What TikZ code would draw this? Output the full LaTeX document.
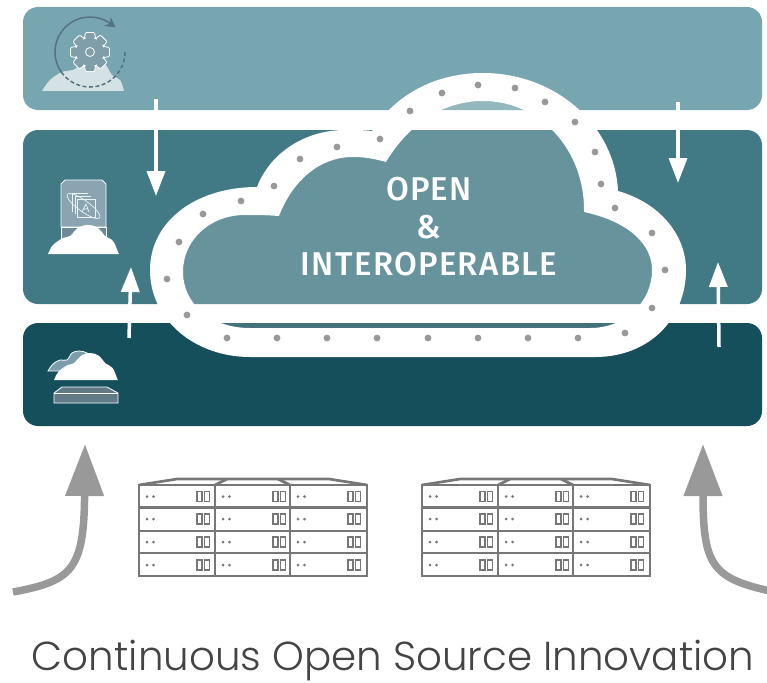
\documentclass[tikz,border=0pt]{standalone}
\usepackage{fontspec}
\usepackage{xcolor}
\usetikzlibrary{arrows.meta}
\newfontfamily\titlefont{Poppins Light}
\newfontfamily\cloudfont[LetterSpace=4]{Fira Sans Medium}

\definecolor{topteal}{HTML}{78A6B0}
\definecolor{midteal}{HTML}{417985}
\definecolor{lowteal}{HTML}{164F5C}
\definecolor{dotgray}{HTML}{999999}
\definecolor{rackgray}{HTML}{777777}
\definecolor{titlegray}{HTML}{444444}
\definecolor{gearfill}{HTML}{7F9EAA}
\definecolor{gearcloud}{HTML}{D5E2E5}
\definecolor{geararrow}{HTML}{557380}
\definecolor{boxupper}{HTML}{8AA5B1}
\definecolor{boxlower}{HTML}{6F8A97}
\definecolor{trayfill}{HTML}{617A85}
\definecolor{backcloud}{HTML}{7C9EAA}

\tikzset{
    band/.style={rounded corners=15pt,inner sep=0pt,minimum width=739pt},
    flowarrow/.style={-{Triangle[length=25pt,width=18pt]},white,line width=3.5pt},
    feedarrow/.style={-{Triangle[length=52pt,width=37pt]},dotgray,line width=7.5pt},
    rackline/.style={rackgray,line width=2.7pt},
    iconline/.style={white,line width=0.8pt},
    cloudtext/.style={white,font=\cloudfont\fontsize{33}{40}\selectfont},
    gearcurve/.style={geararrow,line width=1.5pt}
}

% cloud used by the icons, base left corner at the origin
\newcommand{\iconcloud}{plot[smooth,tension=.7] coordinates {(0,0) (1,-2) (5,-9) (15,-16) (22,-18) (30,-26) (40,-29) (50,-26) (57,-18) (65,-13) (70,-2) (71,0)} -- cycle}
% large cloud, edges of the ring
\newcommand{\cloudouter}{(257,187) .. controls (195,187) and (150,222) .. (150,270)
    .. controls (150,320) and (195,357) .. (250,357) -- (595,357)
    .. controls (650,357) and (686,318) .. (686,270) .. controls (686,235) and (660,203) .. (618,191)
    .. controls (615,125) and (555,73) .. (483,73) .. controls (435,73) and (395,95) .. (372,131)
    .. controls (365,130) and (355,130) .. (345,130) .. controls (305,130) and (270,153) .. (257,187) -- cycle}
\newcommand{\cloudinner}{(279,216) .. controls (265,215) and (255,215) .. (245,215)
    .. controls (210,215) and (183,240) .. (183,272) .. controls (183,303) and (210,328) .. (250,328) -- (590,328)
    .. controls (625,328) and (652,302) .. (652,270) .. controls (652,245) and (630,222) .. (584,212)
    .. controls (585,150) and (540,101) .. (483,101) .. controls (445,101) and (410,122) .. (386,162)
    .. controls (375,159) and (365,157) .. (353,157) .. controls (320,157) and (293,180) .. (279,216) -- cycle}

\begin{document}
\begin{tikzpicture}[x=1pt,y=-1pt]
    \useasboundingbox (0,0) rectangle (767,682);

    % Layers
    \node[band,fill=topteal,minimum height=103pt] (toplayer) at (392.5,58.5) {};
    \node[band,fill=midteal,minimum height=174pt] (midlayer) at (392.5,217) {};
    \node[band,fill=lowteal,minimum height=103pt] (lowlayer) at (392.5,374.5) {};

    % Flow arrows
    \coordinate (downlefta) at (156,99);
    \coordinate (downleftb) at (156,196);
    \coordinate (downrighta) at (678,102);
    \coordinate (downrightb) at (678,183);
    \coordinate (uplefta) at (129,338);
    \coordinate (upleftb) at (131,267);
    \coordinate (uprighta) at (719,347);
    \coordinate (uprightb) at (718,262);
    \draw[flowarrow] (downlefta) -- (downleftb);
    \draw[flowarrow] (downrighta) -- (downrightb);
    \draw[flowarrow] (uplefta) -- (upleftb);
    \draw[flowarrow] (uprighta) -- (uprightb);

    % Cloud ring and its see-through middle
    \fill[white,even odd rule] \cloudouter \cloudinner;
    \fill[white,opacity=.2] \cloudinner;
    \foreach \dotx/\doty in {410/111,380/139,337/147,300/159,274/186,241/201,203/214,179/242,167/279,187/315,
        227/338,277/338,327/338,377/338,428/338,478/338,528/338,578/338,625/333,652/308,665/270,652/233,615/208,
        601/184,595/152,575/122,545/102,515/88,478/85,442/93}
        \fill[dotgray] (\dotx,\doty) circle (3.4);

    \node[cloudtext] (opentext) at (429,189) {OPEN};
    \node[cloudtext] (andtext) at (429,227) {\&};
    \node[cloudtext] (interoptext) at (429,264) {INTEROPERABLE};

    % Gear icon
    \fill[gearcloud] plot[smooth,tension=.6] coordinates {(42,91) (50,80) (62,72) (73,70) (83,65) (103,63) (112,75) (120,80) (124,91)} -- cycle;
    \begin{scope}[shift={(90,52)}]
        \draw[iconline,fill=gearfill,rounded corners=1pt]
            (-23:14.5) \foreach \gearang in {0,45,...,315} {
                -- ({\gearang-23}:14.5) -- ({\gearang-13}:20) -- ({\gearang+13}:20) -- ({\gearang+23}:14.5)} -- cycle;
        \draw[iconline] (0,0) circle (4.5);
        \draw[gearcurve] (140:35) arc[start angle=140,end angle=308,radius=35];
        \draw[gearcurve,-{Stealth[length=10pt,width=11pt]}] (308:35) -- (316:35.5);
        \draw[gearcurve,dash pattern=on 4pt off 2.5pt] (0:35) arc[start angle=0,end angle=140,radius=35];
    \end{scope}

    % Platform icon
    \draw[iconline,fill=boxupper] (61,227) -- (61,184) -- (65,180) -- (102,180) -- (106,184) -- (106,227) -- cycle;
    \draw[iconline,fill=boxlower] (61,227) rectangle (106,245);
    \draw[white!85!topteal,line width=.6pt] (72,212) -- (72,193) -- (88,193);
    \draw[white!85!topteal,line width=.6pt] (75,214) -- (75,196) -- (91,196);
    \draw[white!85!topteal,line width=.7pt] (77,199) rectangle (95,217);
    \draw[white!85!topteal,line width=.7pt,rotate around={-36:(83.5,206)}] (83.5,206) ellipse (20 and 5.5);
    \draw[white!85!topteal,line width=.7pt] (82,212) -- (86,204) -- (89,212) (83.5,209) -- (88,209);
    \begin{scope}[shift={(48,254)}]
        \fill[white] \iconcloud;
    \end{scope}

    % Hardware icon
    \draw[iconline,fill=backcloud] plot[smooth,tension=.6] coordinates {(48,371) (53,364) (60,360) (67,360) (72,353) (79,351) (87,353) (95,360) (85,371)} -- cycle;
    \begin{scope}[shift={(54,380)},xscale=.9,yscale=.93]
        \fill[white] \iconcloud;
    \end{scope}
    \draw[iconline,fill=trayfill] (54,393) -- (62,387) -- (107,387) -- (118,393) -- (118,403) -- (54,403) -- cycle;
    \draw[iconline] (54,393) -- (118,393);

    % Server racks
    \foreach \rackx in {139,422} {
        \begin{scope}[shift={(\rackx,478)}]
            \draw[rackline] (0,7) rectangle (228,98);
            \draw[rackline] (0,7) -- (38,1) -- (190,1) -- (228,7);
            \draw[rackline] (76,7) -- (88,1) (151,7) -- (139,1);
            \foreach \rowy in {29.5,53,75}
                \draw[rackline] (0,\rowy) -- (228,\rowy);
            \draw[rackline] (76,7) -- (76,98) (151,7) -- (151,98);
            \foreach \colx in {0,76,151} {
                \foreach \rowy in {18.5,41,64,87} {
                    \fill[rackgray] (\colx+8,\rowy) circle (1.5) (\colx+14.5,\rowy) circle (1.5);
                    \draw[rackgray,line width=1.2pt] (\colx+58,\rowy-5) rectangle (\colx+63,\rowy+5);
                    \draw[rackgray,line width=1.2pt] (\colx+65.5,\rowy-5) rectangle (\colx+70.5,\rowy+5);
                }
            }
        \end{scope}
    }

    % Feed arrows
    \coordinate (feedlefta) at (13,592);
    \coordinate (feedleftb) at (85,444);
    \coordinate (feedrighta) at (770,591);
    \coordinate (feedrightb) at (703,444);
    \draw[feedarrow] (feedlefta) .. controls (72,581) and (84,570) .. (feedleftb);
    \draw[feedarrow] (feedrighta) .. controls (712,578) and (703,565) .. (feedrightb);

    \node[titlegray,anchor=base,inner sep=0pt,font=\titlefont\fontsize{40.4}{48}\selectfont] (captiontext) at (393,670) {Continuous Open Source Innovation};
\end{tikzpicture}
\end{document}
